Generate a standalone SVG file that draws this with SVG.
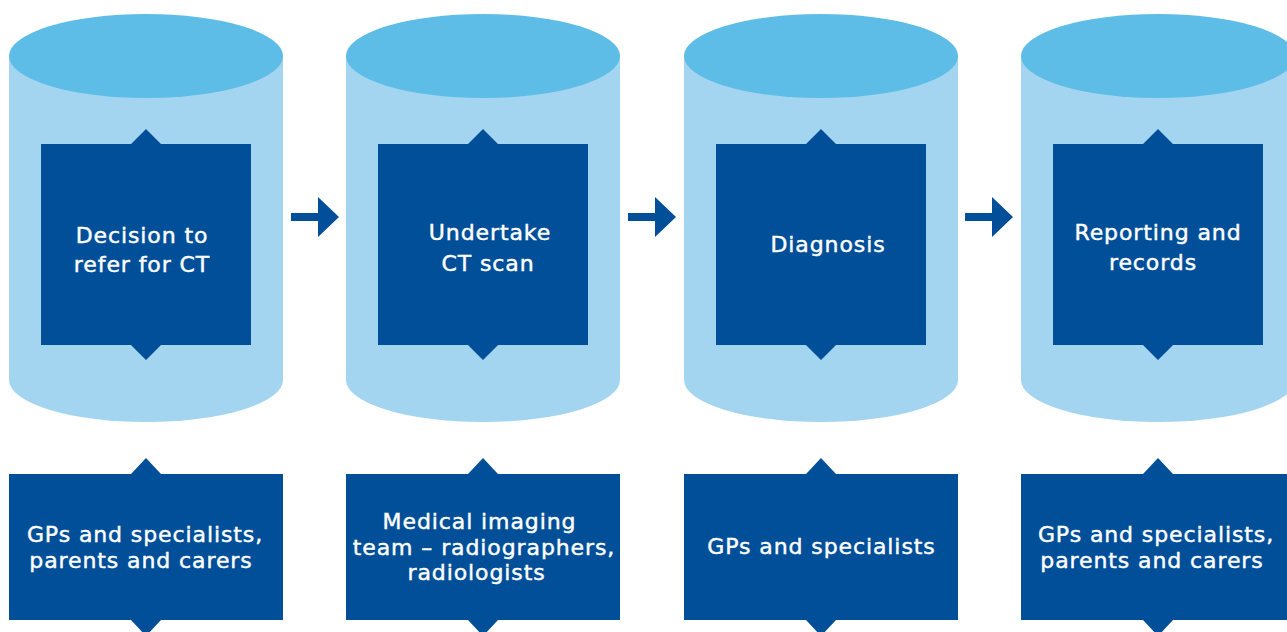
<svg xmlns="http://www.w3.org/2000/svg" width="1287" height="632" viewBox="0 0 1287 632">
<defs>
<style>
.body{fill:#A3D4F0}
.top{fill:#5DBDE6}
.dark{fill:#004F98}
.t{fill:#ffffff;stroke:#ffffff;stroke-width:0.45px;font-family:"DejaVu Sans","Liberation Sans",sans-serif;font-weight:normal;font-size:22px;text-anchor:middle;letter-spacing:0.9px}
</style>
<g id="cyl">
<path class="body" d="M0,56 V380 A137,42 0 0 0 274,380 V56 Z"/>
<ellipse class="top" cx="137" cy="56" rx="137" ry="42"/>
<path class="dark" d="M32,144 H122 L137,129 L152,144 H242 V345 H152 L137,360 L122,345 H32 Z"/>
</g>
<path id="box" class="dark" d="M0,474 H122 L137,458 L152,474 H274 V620 H152 L137,636 L122,620 H0 Z"/>
</defs>
<g id="stage1">
<use href="#cyl" x="9"/>
<text class="t" x="142" y="243">Decision to</text>
<text class="t" x="142" y="272">refer for CT</text>
</g>
<g id="stage2">
<use href="#cyl" x="346"/>
<text class="t" x="490" y="240">Undertake</text>
<text class="t" x="488" y="271">CT scan</text>
</g>
<g id="stage3">
<use href="#cyl" x="684"/>
<text class="t" x="828" y="252">Diagnosis</text>
</g>
<g id="stage4">
<use href="#cyl" x="1021"/>
<text class="t" x="1158" y="240">Reporting and</text>
<text class="t" x="1153" y="270">records</text>
</g>
<g id="people1">
<use href="#box" x="9"/>
<text class="t" x="145" y="542">GPs and specialists,</text>
<text class="t" x="141" y="568">parents and carers</text>
</g>
<g id="people2">
<use href="#box" x="346"/>
<text class="t" x="479.5" y="529">Medical imaging</text>
<text class="t" x="484" y="555">team – radiographers,</text>
<text class="t" x="476.5" y="580">radiologists</text>
</g>
<g id="people3">
<use href="#box" x="684"/>
<text class="t" x="821.5" y="554">GPs and specialists</text>
</g>
<g id="people4">
<use href="#box" x="1021"/>
<text class="t" x="1156" y="542">GPs and specialists,</text>
<text class="t" x="1152" y="568">parents and carers</text>
</g>
<g id="connectors" class="dark">
<polygon points="291,213 318,213 318,197 339,217 318,237 318,221 291,221"/>
<polygon points="628,213 655,213 655,197 676,217 655,237 655,221 628,221"/>
<polygon points="965,213 992,213 992,197 1013,217 992,237 992,221 965,221"/>
</g>
</svg>
